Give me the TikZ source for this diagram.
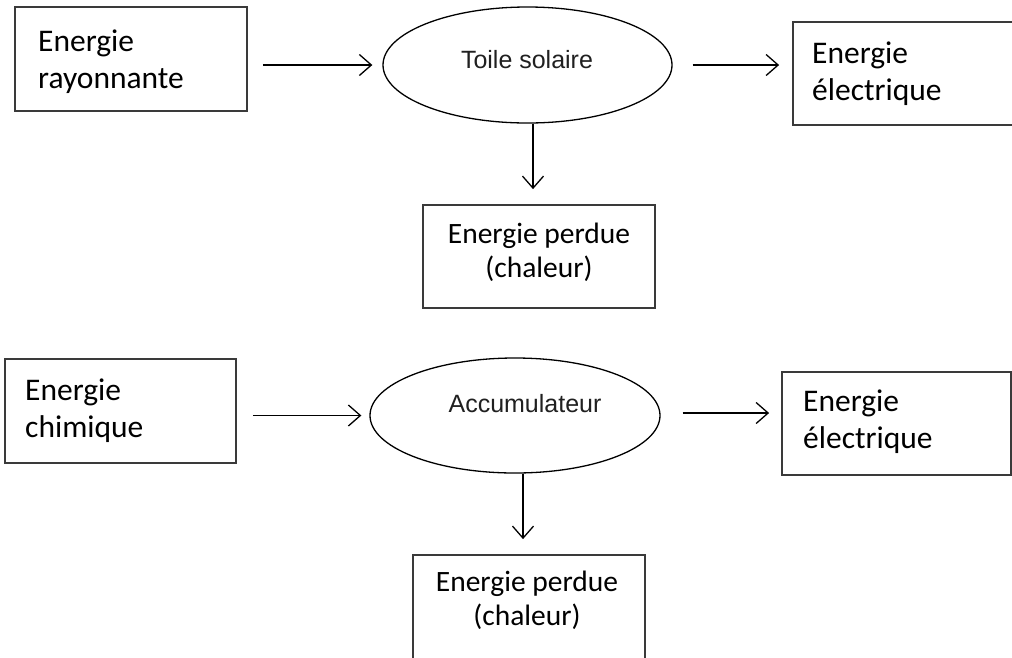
\documentclass[tikz,border=0pt]{standalone}
\usepackage{fontspec}
\setmainfont{Carlito}
\newfontfamily\arialfont{Liberation Sans}
\usetikzlibrary{arrows.meta,shapes.geometric}
\definecolor{boxline}{HTML}{3A3A3A}
\definecolor{ink}{HTML}{202020}
\begin{document}
\begin{tikzpicture}[x=1pt,y=-1pt,
  box/.style={draw=boxline,line width=1.8pt,inner sep=0pt},
  oval/.style={draw=black,line width=1.3pt,ellipse,inner sep=0pt},
  lbl/.style={font=\fontsize{31.5}{37}\selectfont,align=left,inner sep=0pt,anchor=base west},
  clbl/.style={font=\fontsize{29.5}{34}\selectfont,align=center,inner sep=0pt,anchor=base},
  olbl/.style={font=\arialfont\fontsize{25}{30}\selectfont,text=ink,inner sep=0pt,anchor=base},
  flow/.style={draw=black,line width=1.3pt,-{Straight Barb[length=12pt,width=21pt,line width=1.3pt]}}]
\clip (0,0) rectangle (1012,657);
\fill[white] (0,0) rectangle (1012,657);
% top row
\node[box,minimum width=232pt,minimum height=104pt] (b1) at (131,59) {};
\node[lbl] (t1) at (38,88) {Energie\\rayonnante};
\node[oval,minimum width=289pt,minimum height=116pt] (e1) at (527.5,65) {};
\node[olbl] (te1) at (527,68) {Toile solaire};
\node[box,minimum width=227pt,minimum height=103pt] (b2) at (906.5,73.5) {};
\node[lbl] (t2) at (812,100) {Energie\\électrique};
\node[box,minimum width=232pt,minimum height=103pt] (p1) at (539,256.5) {};
\node[clbl] (tp1) at (539,277) {Energie perdue\\(chaleur)};
\draw[flow,shorten <=15pt,shorten >=10pt] (b1.east |- e1.west) -- (e1.west);
\draw[flow,shorten <=20pt,shorten >=13pt] (e1.east) -- (e1.east -| b2.west);
\draw[flow,shorten >=15pt] ([xshift=5.5pt]e1.south) -- ([xshift=5.5pt]e1.south |- p1.north);
% bottom row
\node[box,minimum width=231pt,minimum height=104pt] (b3) at (120.5,411) {};
\node[lbl] (t3) at (25,437) {Energie\\chimique};
\node[oval,minimum width=290pt,minimum height=115pt] (e2) at (515,415.5) {};
\node[olbl] (te2) at (525,412) {Accumulateur};
\node[box,minimum width=229pt,minimum height=103pt] (b4) at (896.5,423.5) {};
\node[lbl] (t4) at (803,448) {Energie\\électrique};
\node[box,minimum width=232pt,minimum height=145pt] (p2) at (529,627.5) {};
\node[clbl] (tp2) at (527,625) {Energie perdue\\(chaleur)};
\draw[flow,shorten <=16pt,shorten >=8pt] (b3.east |- e2.west) -- (e2.west);
\draw[flow,shorten <=22pt,shorten >=12pt] ([yshift=2.5pt]e2.east) -- ([yshift=2.5pt]e2.east -| b4.west);
\draw[flow,shorten >=15pt] ([xshift=8pt]e2.south) -- ([xshift=8pt]e2.south |- p2.north);
\end{tikzpicture}
\end{document}
